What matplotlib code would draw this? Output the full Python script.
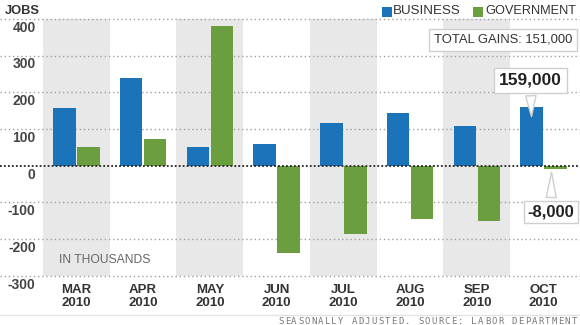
import matplotlib.pyplot as plt
from matplotlib.patches import Rectangle

# values in thousands of jobs
months = ["MAR", "APR", "MAY", "JUN", "JUL", "AUG", "SEP", "OCT"]
year = "2010"
business = [157, 239, 50, 60, 116, 143, 107, 159]
government = [50, 73, 380, -238, -185, -146, -150, -8]
yticks = [-300, -200, -100, 0, 100, 200, 300, 400]
total_label = "TOTAL GAINS: 151,000"
source = "SEASONALLY ADJUSTED. SOURCE: LABOR DEPARTMENT"

BLUE = "#1b73b9"
GREEN = "#6a9e3f"
BAND = "#e8e8e8"

plt.rcParams["font.family"] = ["Liberation Sans", "DejaVu Sans"]

W, H = 580, 325
fig = plt.figure(figsize=(W / 100, H / 100), dpi=100)
ax = fig.add_axes([0, 0, 1, 1])
ax.set_xlim(-1.144, 7.545)
ax.set_ylim(-433.9, 451.3)
ax.axis("off")


def fx(px):
    return px / W


def fy(py):
    return 1 - py / H


# alternating shaded month bands
for i in range(0, len(months), 2):
    ax.add_patch(Rectangle((i - 0.5, yticks[0]), 1, yticks[-1] - yticks[0],
                           fc=BAND, ec="none", zorder=0))

# gridlines
for v in yticks:
    if v == 0:
        continue
    ax.axhline(v, color="#a0a0a0", lw=1, ls=(0, (1, 2)), zorder=1)
ax.axhline(0, color="#222222", lw=1.3, ls=(0, (1, 1.2)), zorder=5)

# y labels sit just below each gridline
for v in yticks:
    ax.text(-0.61, v - 24, str(v), ha="right", va="center",
            fontsize=10, fontweight="bold", color="#444444")

x = list(range(len(months)))
w = 0.34
ax.bar([i - 0.18 for i in x], business, w, color=BLUE, zorder=3)
ax.bar([i + 0.18 for i in x], government, w, color=GREEN, zorder=3)

for i, m in enumerate(months):
    ax.text(i, -356, m + "\n" + year, ha="center", va="center",
            fontsize=9.5, fontweight="bold", color="#333333", linespacing=1.15)

ax.text(-0.26, -257, "IN THOUSANDS", ha="left", va="center",
        fontsize=8.7, color="#666666")

# header
fig.text(fx(5), fy(11), "JOBS", ha="left", va="center",
         fontsize=9.3, fontweight="bold", color="#333333")
fig.patches.append(Rectangle((fx(382), fy(17)), fx(10), 10 / H,
                             transform=fig.transFigure, fc=BLUE, ec="none"))
fig.text(fx(393), fy(11.5), "BUSINESS", ha="left", va="center",
         fontsize=9.6, color="#333333")
fig.patches.append(Rectangle((fx(472.5), fy(17)), fx(10), 10 / H,
                             transform=fig.transFigure, fc=GREEN, ec="none"))
fig.text(fx(485), fy(11.5), "GOVERNMENT", ha="left", va="center",
         fontsize=9.2, color="#333333")

fig.text(fx(503), fy(40), total_label, ha="center", va="center",
         fontsize=9.4, color="#333333",
         bbox=dict(boxstyle="square,pad=0.35", fc="white", ec="#cfcfcf", lw=1))

# callouts on the October bars
box = dict(boxstyle="square,pad=0.28", fc="white", ec="#cfcfcf", lw=1)
wedge = dict(arrowstyle="wedge,tail_width=0.6,shrink_factor=0.5",
             fc="white", ec="#cfcfcf", lw=1)
ax.annotate(f"{business[-1] * 1000:,}",
            xy=(7 - 0.18, business[-1] - 33), xytext=(6.80, 233),
            ha="center", va="center", fontsize=12.5, fontweight="bold",
            color="#222222", zorder=6, bbox=box, arrowprops=wedge)
ax.annotate(f"{government[-1] * 1000:,}",
            xy=(7 + 0.12, government[-1] - 2), xytext=(7.11, -126),
            ha="center", va="center", fontsize=12, fontweight="bold",
            color="#222222", zorder=6,
            bbox=dict(boxstyle="square,pad=0.22", fc="white", ec="#cfcfcf", lw=1),
            arrowprops=wedge)

# footer
fig.add_artist(plt.Line2D([0, 1], [fy(315), fy(315)], transform=fig.transFigure,
                          color="#e2e2e2", lw=1))
for k, ch in enumerate(source):
    fig.text(fx(278 + k * 6.67), fy(321), ch, ha="left", va="center",
             fontsize=6.5, family="DejaVu Sans Mono", color="#7a7a7a")

fig.savefig("out.png", dpi=100)
